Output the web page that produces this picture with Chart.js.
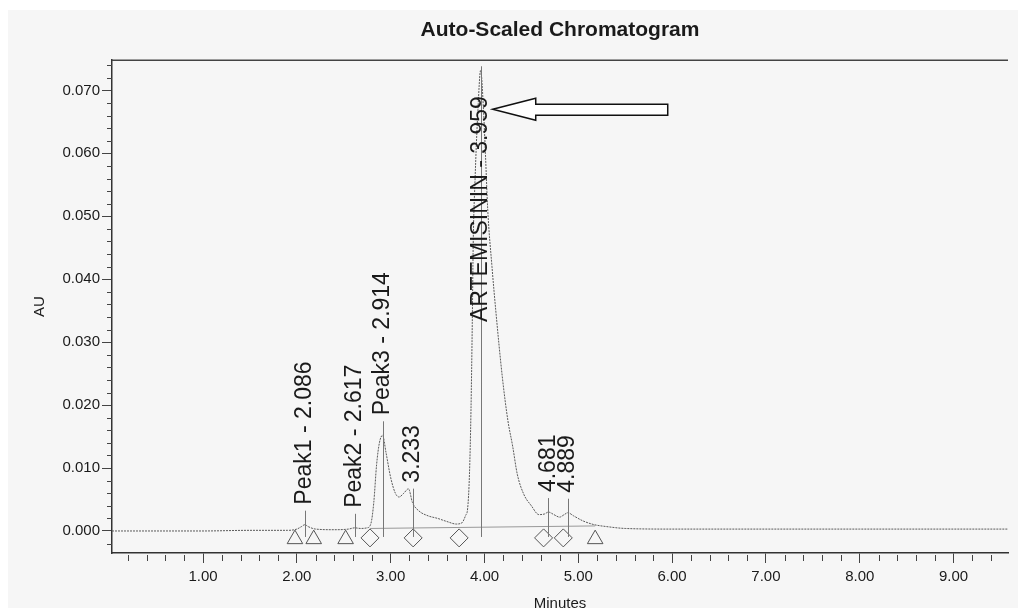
<!DOCTYPE html>
<html lang="en">

<head>
    <meta charset="UTF-8">
    <title>Auto-Scaled Chromatogram</title>
    <script src="https://cdn.jsdelivr.net/npm/chart.js"></script>
    <style>
        body { margin: 0; background: #fff; }
        .box { position: relative; width: 1018px; height: 608px; }
    </style>
</head>

<body>
    <div class="box">
        <canvas id="chromChart"></canvas>
    </div>

<script>
    // trace (minutes / AU)
    const times = [0.03, 0.5, 1.0, 1.5, 1.9, 2.0, 2.05, 2.086, 2.12, 2.2, 2.4, 2.55, 2.617, 2.68, 2.75,
        2.79, 2.82, 2.85, 2.88, 2.914, 2.95, 3.0, 3.05, 3.09, 3.14, 3.19, 3.233, 3.3, 3.4, 3.5, 3.6,
        3.7, 3.76, 3.8, 3.82, 3.84, 3.856, 3.87, 3.88, 3.9, 3.93, 3.959, 3.99, 4.01, 4.035, 4.08,
        4.12, 4.19, 4.25, 4.3, 4.35, 4.42, 4.5, 4.58, 4.64, 4.681, 4.74, 4.8, 4.85, 4.889, 4.95,
        5.05, 5.17, 5.3, 5.5, 6.0, 7.0, 8.0, 9.0, 9.58];
    const absorbance = [0.0000, 0.0000, 0.0000, 0.0001, 0.0001, 0.0003, 0.0007, 0.0010, 0.0007, 0.0003, 0.0002, 0.0003, 0.0005, 0.0004, 0.0005,
        0.0012, 0.0045, 0.0105, 0.0140, 0.0152, 0.0125, 0.0085, 0.0060, 0.0054, 0.0060, 0.0067, 0.0045, 0.0032, 0.0024, 0.0020, 0.0015,
        0.0011, 0.0013, 0.0025, 0.0035, 0.0090, 0.0190, 0.0330, 0.0457, 0.0560, 0.0668, 0.0732, 0.0668, 0.0600, 0.0510, 0.0420,
        0.0351, 0.0245, 0.0175, 0.0135, 0.0090, 0.0058, 0.0040, 0.0026, 0.0027, 0.0030, 0.0026, 0.0022, 0.0026, 0.0029, 0.0024,
        0.0016, 0.0010, 0.0007, 0.0004, 0.0003, 0.0003, 0.0003, 0.0003, 0.0003];

    // integration baseline under the peaks
    const baseTimes = [2.78, 5.18];
    const baseAU = [0.0004, 0.0008];

    // labelled peaks
    const peakTimes = [2.086, 2.617, 2.914, 3.233, 3.959, 4.681, 4.889];
    const peakNames = ['Peak1 - 2.086', 'Peak2 - 2.617', 'Peak3 - 2.914', '3.233', 'ARTEMISININ - 3.959', '4.681', '4.889'];

    // start/end markers below the trace
    const triangleTimes = [1.98, 2.18, 2.52, 5.18];
    const diamondTimes = [2.78, 3.24, 3.73, 4.63, 4.84];
    const markerAU = -0.0013;

    const xTicks = [1, 2, 3, 4, 5, 6, 7, 8, 9];
    const yTicks = [0, 0.01, 0.02, 0.03, 0.04, 0.05, 0.06, 0.07];

    // arrow pointing at the main peak
    const arrowTip = { x: 4.088, y: 0.0670 };

    Chart.defaults.font.family = '"Liberation Sans", Arial, sans-serif';
    Chart.defaults.color = '#1a1a1a';

    const paperPlugin = {
        id: 'paper',
        beforeDraw(chart) {
            const c = chart.ctx;
            c.save();
            c.fillStyle = '#f6f6f6';
            c.fillRect(8, 10, chart.width - 8, chart.height - 10);
            c.restore();
        },
        afterDraw(chart) {
            const c = chart.ctx;
            const area = chart.chartArea;
            const xs = chart.scales.x;
            const ys = chart.scales.y;
            c.save();
            // top frame line
            c.strokeStyle = '#444';
            c.lineWidth = 1.5;
            c.beginPath();
            c.moveTo(area.left, area.top);
            c.lineTo(area.right, area.top);
            c.stroke();

            // minor ticks
            c.lineWidth = 1;
            c.strokeStyle = '#444';
            c.beginPath();
            for (let v = 0.2; v < xs.max; v += 0.2) {
                if (Math.abs(v - Math.round(v)) < 0.01) continue;
                const px = Math.round(xs.getPixelForValue(v)) + 0.5;
                c.moveTo(px, area.bottom + 2);
                c.lineTo(px, area.bottom + 8);
            }
            for (let v = -0.002; v < ys.max; v += 0.002) {
                if (Math.abs(v * 100 - Math.round(v * 100)) < 0.01) continue;
                const py = Math.round(ys.getPixelForValue(v)) + 0.5;
                c.moveTo(area.left - 5, py);
                c.lineTo(area.left, py);
            }
            c.stroke();

            // peak labels with drop lines
            c.font = '23px "Liberation Sans", Arial, sans-serif';
            c.textAlign = 'left';
            c.textBaseline = 'middle';
            const zeroPx = ys.getPixelForValue(0);
            for (let i = 0; i < peakTimes.length; i++) {
                const idx = times.indexOf(peakTimes[i]);
                const px = xs.getPixelForValue(peakTimes[i]);
                const peakPx = ys.getPixelForValue(absorbance[idx]);
                const w = c.measureText(peakNames[i]).width;
                let base = peakPx - 20;
                if (base - w < area.top + 30) base = area.top + 36 + w;

                c.strokeStyle = '#777';
                c.beginPath();
                c.moveTo(Math.round(px) + 0.5, Math.min(base + 6, peakPx - 4));
                c.lineTo(Math.round(px) + 0.5, zeroPx + 6);
                c.stroke();

                c.save();
                c.translate(px, base);
                c.rotate(-Math.PI / 2);
                c.fillStyle = '#1a1a1a';
                c.fillText(peakNames[i], 0, 0);
                c.restore();
            }

            // hollow arrow
            const tx = xs.getPixelForValue(arrowTip.x);
            const ty = ys.getPixelForValue(arrowTip.y);
            c.beginPath();
            c.moveTo(tx, ty);
            c.lineTo(tx + 43, ty - 11);
            c.lineTo(tx + 43, ty - 5);
            c.lineTo(tx + 175, ty - 5);
            c.lineTo(tx + 175, ty + 6);
            c.lineTo(tx + 43, ty + 6);
            c.lineTo(tx + 43, ty + 11);
            c.closePath();
            c.fillStyle = '#fff';
            c.fill();
            c.strokeStyle = '#111';
            c.lineWidth = 1.5;
            c.stroke();
            c.restore();
        }
    };

    const ctx = document.getElementById('chromChart').getContext('2d');
    const chromChart = new Chart(ctx, {
        type: 'line',
        data: {
            datasets: [{
                label: 'Trace',
                data: times.map((t, i) => ({ x: t, y: absorbance[i] })),
                borderColor: '#5a5a5a',
                borderWidth: 1,
                borderDash: [2, 1],
                pointRadius: 0,
                cubicInterpolationMode: 'monotone'
            }, {
                label: 'Baseline',
                data: baseTimes.map((t, i) => ({ x: t, y: baseAU[i] })),
                borderColor: '#999',
                borderWidth: 1,
                pointRadius: 0
            }, {
                type: 'scatter',
                label: 'Triangles',
                data: triangleTimes.map(t => ({ x: t, y: markerAU })),
                pointStyle: 'triangle',
                pointRadius: 9,
                backgroundColor: 'rgba(0,0,0,0)',
                borderColor: '#555',
                borderWidth: 1
            }, {
                type: 'scatter',
                label: 'Diamonds',
                data: diamondTimes.map(t => ({ x: t, y: markerAU + 0.0002 })),
                pointStyle: 'rectRot',
                pointRadius: 9,
                backgroundColor: 'rgba(0,0,0,0)',
                borderColor: '#555',
                borderWidth: 1
            }]
        },
        options: {
            responsive: true,
            maintainAspectRatio: false,
            animation: false,
            layout: { padding: 0 },
            plugins: {
                legend: { display: false },
                tooltip: { enabled: false },
                title: {
                    display: true,
                    text: 'Auto-Scaled Chromatogram',
                    fullSize: false,
                    color: '#1a1a1a',
                    font: { size: 21, weight: 'bold' },
                    padding: { top: 18, bottom: 17 }
                }
            },
            scales: {
                x: {
                    type: 'linear',
                    min: 0.03,
                    max: 9.58,
                    afterBuildTicks: s => { s.ticks = xTicks.map(v => ({ value: v })); },
                    afterFit: s => { s.height = 55; },
                    ticks: {
                        callback: v => v.toFixed(2),
                        font: { size: 15 },
                        padding: 5,
                        maxRotation: 0
                    },
                    grid: { drawOnChartArea: false, tickLength: 10, color: '#444' },
                    border: { color: '#333', width: 1.5 },
                    title: {
                        display: true,
                        text: 'Minutes',
                        font: { size: 15, lineHeight: 0.6 },
                        padding: 0
                    }
                },
                y: {
                    min: -0.0035,
                    max: 0.0748,
                    afterBuildTicks: s => { s.ticks = yTicks.map(v => ({ value: v })); },
                    afterFit: s => { s.width = 112; },
                    ticks: {
                        callback: v => v.toFixed(3),
                        font: { size: 15 },
                        padding: 2
                    },
                    grid: { drawOnChartArea: false, tickLength: 10, color: '#444' },
                    border: { color: '#333', width: 1.5 },
                    title: {
                        display: true,
                        text: 'AU',
                        font: { size: 15 },
                        padding: { top: 31, bottom: 0 }
                    }
                }
            }
        },
        plugins: [paperPlugin]
    });
</script>
</body>

</html>
